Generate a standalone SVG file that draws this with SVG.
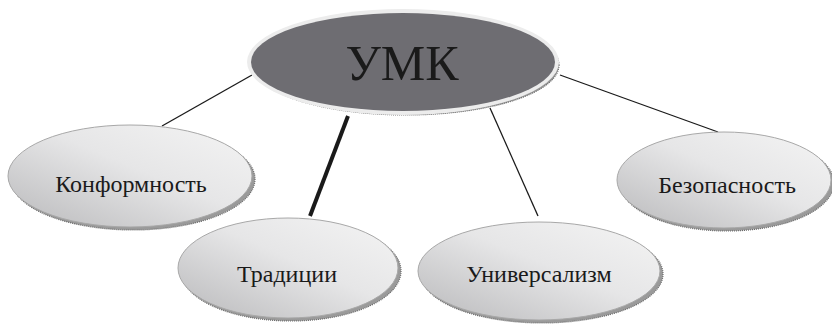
<svg xmlns="http://www.w3.org/2000/svg" width="832" height="324" viewBox="0 0 832 324">
<defs>
<linearGradient id="g" x1="0" y1="1" x2="1" y2="0">
<stop offset="0" stop-color="#b9b9bb"/>
<stop offset="0.55" stop-color="#e6e6e7"/>
<stop offset="1" stop-color="#f4f4f4"/>
</linearGradient>
</defs>
<style>
.sh{fill:#9a9a9a;stroke:#6a6a6a;stroke-width:1.2;stroke-dasharray:1 1}
.el{fill:url(#g);stroke:#a8a8a8;stroke-width:1}
.t{font-family:"Liberation Serif","Times New Roman",serif;font-size:24px;fill:#1a1a1a;text-anchor:middle}
.c{stroke:#1a1a1a;stroke-width:1.3;fill:none}
</style>
<rect width="832" height="324" fill="#ffffff"/>
<g id="connectors">
<line class="c" x1="252" y1="75" x2="162" y2="126"/>
<line class="c" x1="348" y1="116" x2="310" y2="216" style="stroke-width:4"/>
<line class="c" x1="490" y1="108" x2="538" y2="216"/>
<line class="c" x1="560" y1="75" x2="718" y2="132"/>
</g>
<g id="umk">
<ellipse class="sh" cx="406" cy="65" rx="153" ry="50"/>
<ellipse cx="403" cy="62" rx="156" ry="53" fill="#ececec"/>
<ellipse cx="403" cy="62" rx="152" ry="49" fill="#6e6d72"/>
<text x="402" y="80" class="t" style="font-size:50px">УМК</text>
</g>
<g id="konformnost">
<ellipse class="sh" cx="133" cy="179" rx="122" ry="51"/>
<ellipse class="el" cx="130" cy="176" rx="122" ry="51"/>
<text x="131" y="192" class="t">Конформность</text>
</g>
<g id="traditsii">
<ellipse class="sh" cx="291" cy="271" rx="110" ry="50"/>
<ellipse class="el" cx="288" cy="268" rx="110" ry="50"/>
<text x="287" y="282" class="t">Традиции</text>
</g>
<g id="universalizm">
<ellipse class="sh" cx="542" cy="274" rx="121" ry="49"/>
<ellipse class="el" cx="539" cy="271" rx="121" ry="49"/>
<text x="539" y="282" class="t">Универсализм</text>
</g>
<g id="bezopasnost">
<ellipse class="sh" cx="727" cy="183" rx="107" ry="48"/>
<ellipse class="el" cx="724" cy="180" rx="107" ry="48"/>
<text x="727" y="193" class="t">Безопасность</text>
</g>
</svg>
